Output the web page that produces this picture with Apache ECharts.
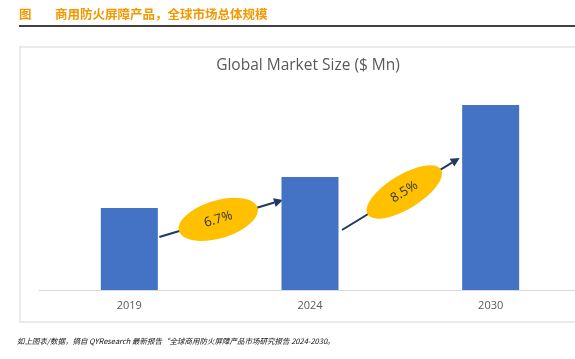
<!DOCTYPE html>
<html><head><meta charset="utf-8">
<script src="https://cdn.jsdelivr.net/npm/echarts@6/dist/echarts.min.js"></script>
<style>html,body{margin:0;padding:0;background:#fff}#c{width:575px;height:359px}</style>
</head><body><div id="c"></div>
<script>
var categories = ['2019', '2024', '2030'];
var marketSize = [82, 113, 185];
var cagrLabels = ['6.7%', '8.5%'];
var chartTitle = 'Global Market Size ($ Mn)';
var headerTag = '图';
var headerText = '商用防火屏障产品，全球市场总体规模';
var footerText = '如上图表/数据，摘自 QYResearch 最新报告“全球商用防火屏障产品市场研究报告 2024-2030。';

var chart = echarts.init(document.getElementById('c'));
chart.setOption({
  animation: false,
  grid: {left: 39, width: 542, top: 90, height: 200, outerBoundsMode: 'none', containLabel: false},
  xAxis: {
    type: 'category', data: categories,
    axisLine: {lineStyle: {color: '#d9d9d9', width: 1}},
    axisTick: {show: false},
    axisLabel: {color: '#595959', fontSize: 11, margin: 10, fontFamily: 'Open Sans'}
  },
  yAxis: {type: 'value', min: 0, max: 200, show: false, splitLine: {show: false}},
  series: [{
    type: 'bar', data: marketSize, barWidth: 57,
    itemStyle: {color: '#4472C4'}
  }]
});

function px(i, v) { return chart.convertToPixel({seriesIndex: 0}, [i, v]); }

var g = [];
g.push({type: 'rect', shape: {x: 20, y: 47, width: 600, height: 275}, style: {fill: 'none', stroke: '#e3e3e3', lineWidth: 1.5}, silent: true});
g.push({type: 'line', shape: {x1: 19, y1: 26, x2: 575, y2: 26}, style: {stroke: '#000', lineWidth: 1.5}});
g.push({type: 'text', x: 19, y: 14, style: {text: headerTag, fill: '#F39800', font: 'bold 12.5px "Noto Sans CJK SC"', textVerticalAlign: 'middle'}});
g.push({type: 'text', x: 55, y: 14, style: {text: headerText, fill: '#F39800', font: 'bold 12.5px "Noto Sans CJK SC"', textVerticalAlign: 'middle'}});
g.push({type: 'text', x: 308, y: 66, style: {text: chartTitle, fill: '#595959', font: '15.5px "Open Sans"', textAlign: 'center', textVerticalAlign: 'middle'}});
g.push({type: 'text', x: 17, y: 341, style: {text: footerText, fill: '#111', font: 'italic 7.5px "Noto Sans CJK SC"', textVerticalAlign: 'middle'}});

var arrowDefs = [
  {from: [0, 53], fromDx: 30, to: [1, 90], toDx: -27, shift: -3, rx: 41, ry: 19},
  {from: [1, 60], fromDx: 32, to: [2, 132], toDx: -31, shift: 4, rx: 43, ry: 17}
];
arrowDefs.forEach(function (a, k) {
  var p1 = px(a.from[0], a.from[1]); p1[0] += a.fromDx;
  var p2 = px(a.to[0], a.to[1]); p2[0] += a.toDx;
  var dx = p2[0] - p1[0], dy = p2[1] - p1[1];
  var len = Math.sqrt(dx * dx + dy * dy), ux = dx / len, uy = dy / len;
  var ang = Math.atan2(-dy, dx);
  var hl = 9, hw = 4.5;
  var bx = p2[0] - ux * hl, by = p2[1] - uy * hl;
  g.push({type: 'line', shape: {x1: p1[0], y1: p1[1], x2: bx, y2: by}, style: {stroke: '#1F3864', lineWidth: 2}});
  g.push({type: 'polygon', shape: {points: [[p2[0], p2[1]], [bx - uy * hw, by + ux * hw], [bx + uy * hw, by - ux * hw]]}, style: {fill: '#1F3864'}});
  var cx = (p1[0] + p2[0]) / 2 + ux * a.shift, cy = (p1[1] + p2[1]) / 2 + uy * a.shift;
  g.push({type: 'ellipse', x: cx, y: cy, rotation: ang, shape: {cx: 0, cy: 0, rx: a.rx, ry: a.ry}, style: {fill: '#FFC000'}});
  g.push({type: 'text', x: cx, y: cy, rotation: ang, style: {text: cagrLabels[k], fill: '#333', font: '13px "Open Sans"', textAlign: 'center', textVerticalAlign: 'middle'}});
});
chart.setOption({graphic: g});
</script></body></html>
